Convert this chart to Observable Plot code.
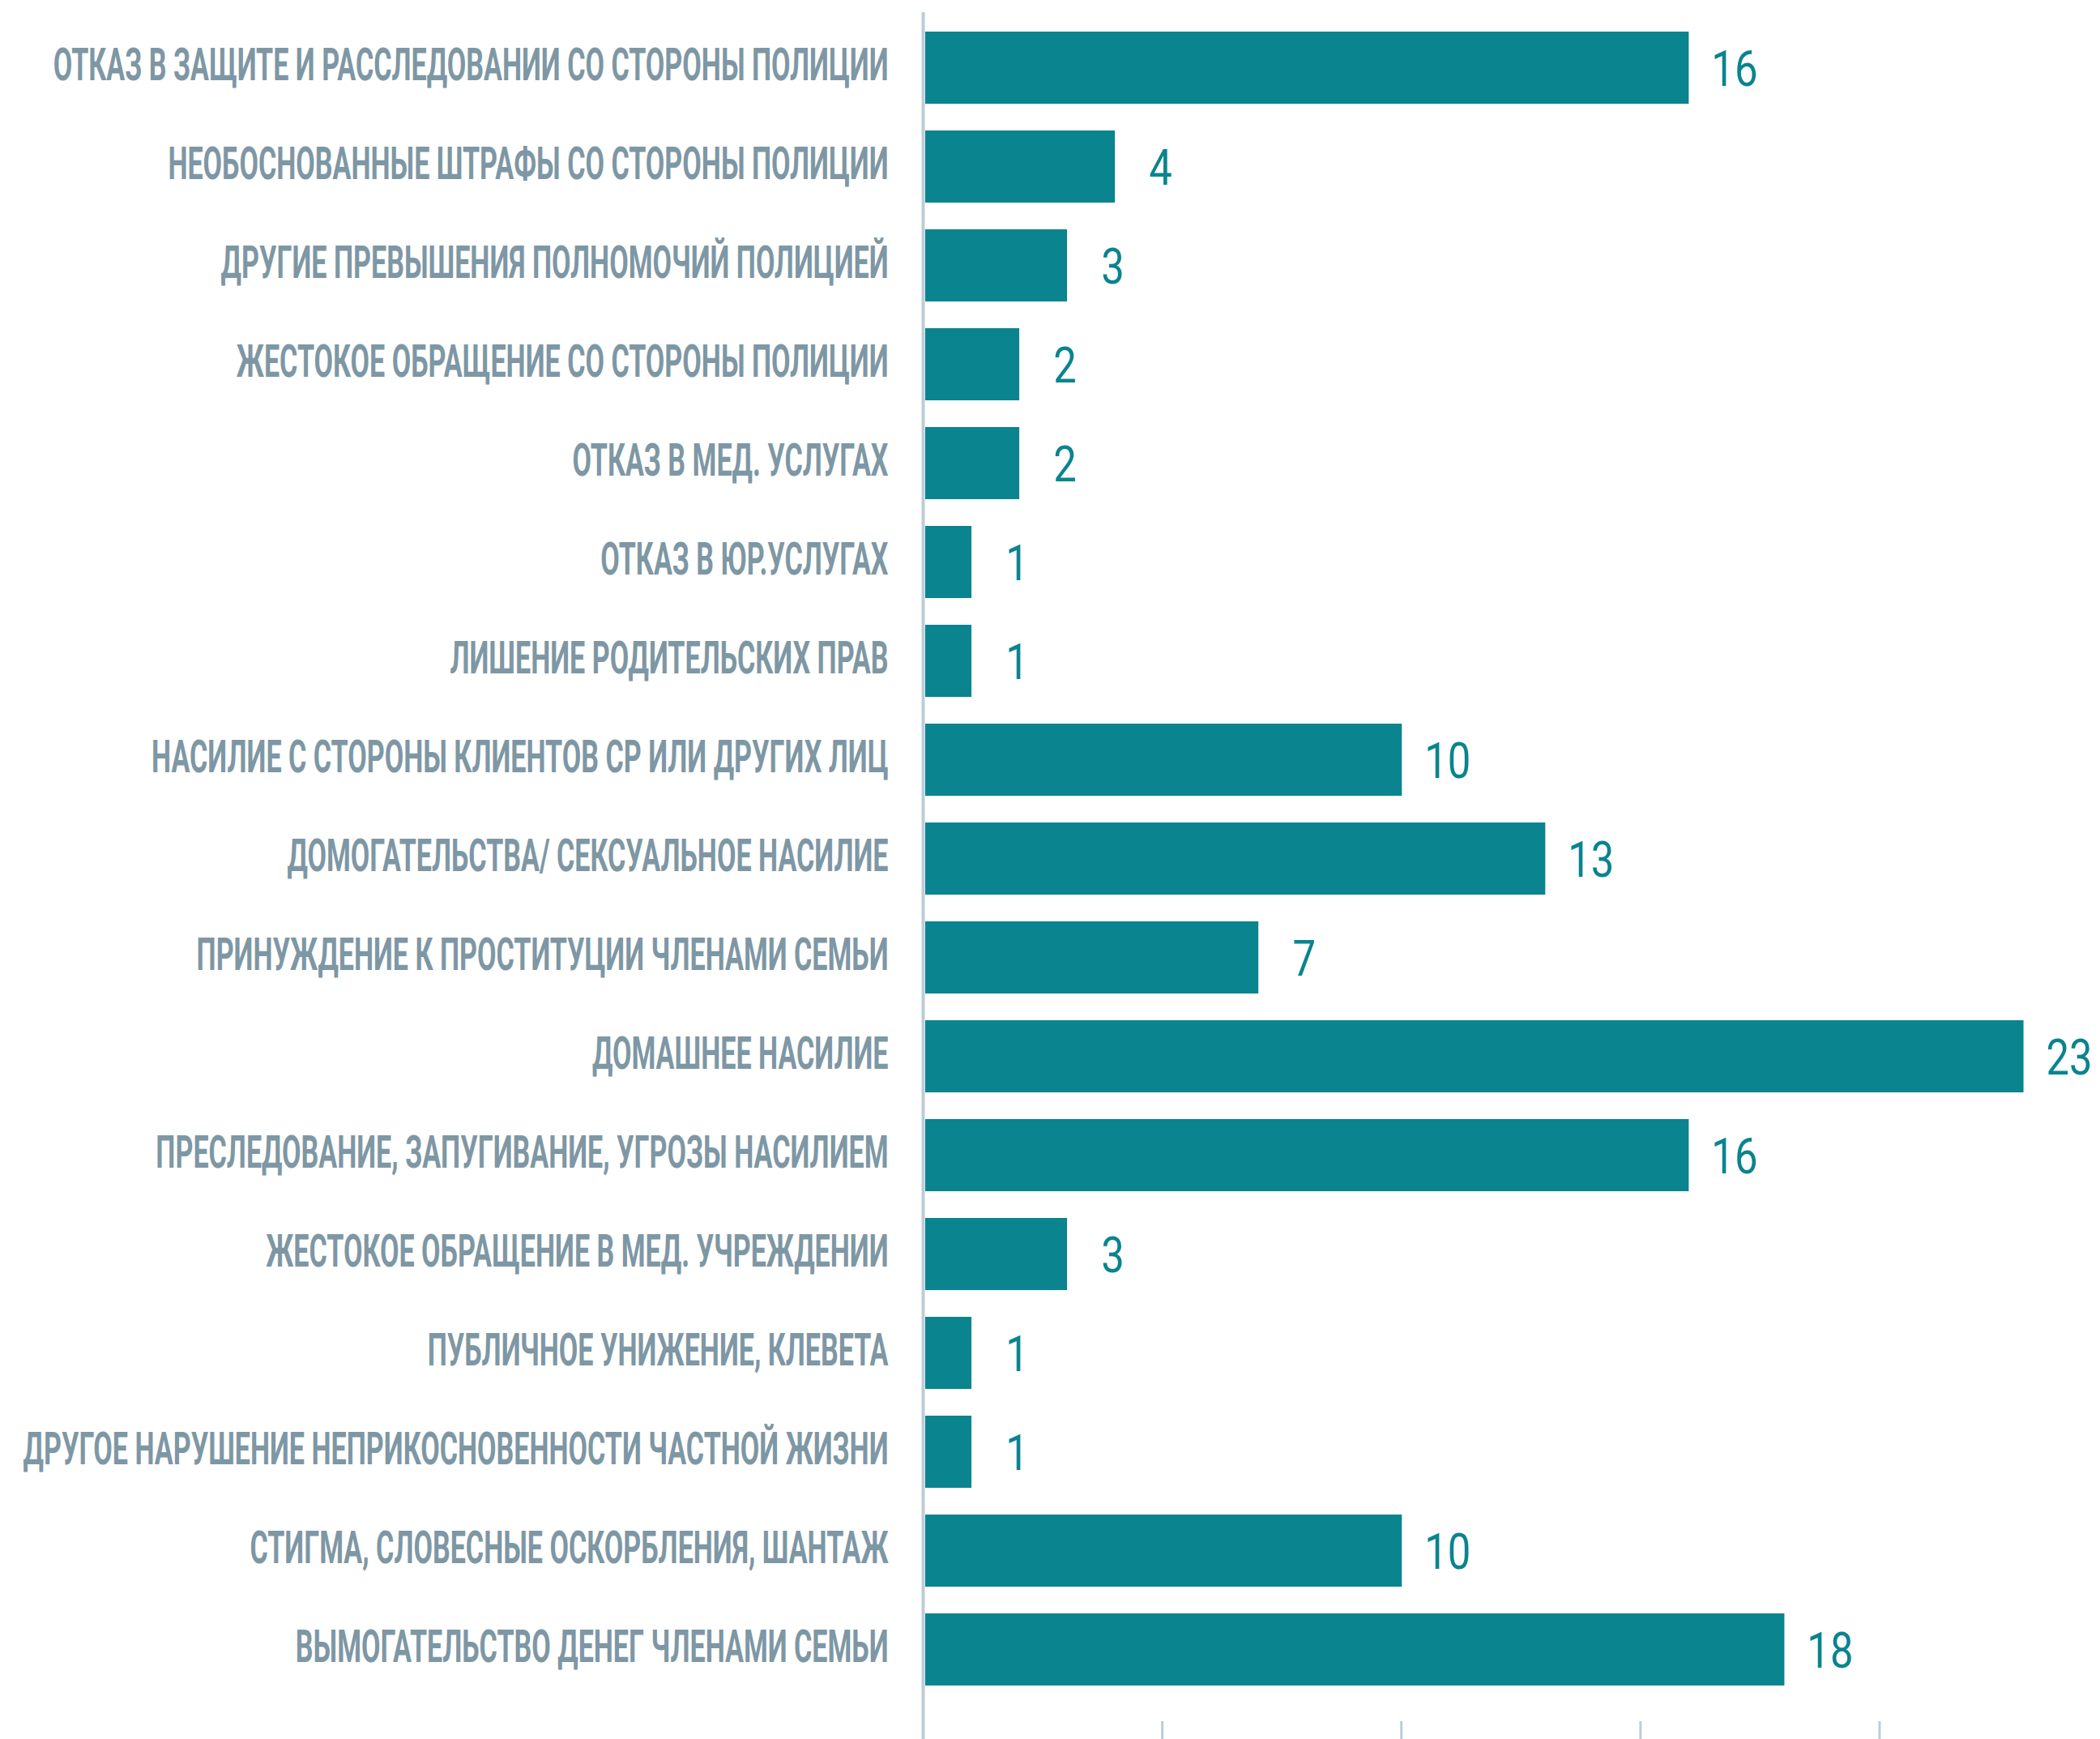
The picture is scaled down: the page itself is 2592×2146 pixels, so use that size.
<!DOCTYPE html>
<html>
<head>
<meta charset="utf-8">
<script src="https://cdn.jsdelivr.net/npm/d3@7"></script>
<script src="https://cdn.jsdelivr.net/npm/@observablehq/plot@0.6"></script>
<style>
  html, body { margin: 0; padding: 0; background: #ffffff; }
  #chart svg { display: block; }
</style>
</head>
<body>
<div id="chart"></div>
<script>
const categories = [
  "ОТКАЗ В ЗАЩИТЕ И РАССЛЕДОВАНИИ СО СТОРОНЫ ПОЛИЦИИ",
  "НЕОБОСНОВАННЫЕ ШТРАФЫ СО СТОРОНЫ ПОЛИЦИИ",
  "ДРУГИЕ ПРЕВЫШЕНИЯ ПОЛНОМОЧИЙ ПОЛИЦИЕЙ",
  "ЖЕСТОКОЕ ОБРАЩЕНИЕ СО СТОРОНЫ ПОЛИЦИИ",
  "ОТКАЗ В МЕД. УСЛУГАХ",
  "ОТКАЗ В ЮР.УСЛУГАХ",
  "ЛИШЕНИЕ РОДИТЕЛЬСКИХ ПРАВ",
  "НАСИЛИЕ С СТОРОНЫ КЛИЕНТОВ СР ИЛИ ДРУГИХ ЛИЦ",
  "ДОМОГАТЕЛЬСТВА/ СЕКСУАЛЬНОЕ НАСИЛИЕ",
  "ПРИНУЖДЕНИЕ К ПРОСТИТУЦИИ ЧЛЕНАМИ СЕМЬИ",
  "ДОМАШНЕЕ НАСИЛИЕ",
  "ПРЕСЛЕДОВАНИЕ, ЗАПУГИВАНИЕ, УГРОЗЫ НАСИЛИЕМ",
  "ЖЕСТОКОЕ ОБРАЩЕНИЕ В МЕД. УЧРЕЖДЕНИИ",
  "ПУБЛИЧНОЕ УНИЖЕНИЕ, КЛЕВЕТА",
  "ДРУГОЕ НАРУШЕНИЕ НЕПРИКОСНОВЕННОСТИ ЧАСТНОЙ ЖИЗНИ",
  "СТИГМА, СЛОВЕСНЫЕ ОСКОРБЛЕНИЯ, ШАНТАЖ",
  "ВЫМОГАТЕЛЬСТВО ДЕНЕГ ЧЛЕНАМИ СЕМЬИ"
];
const values = [16, 4, 3, 2, 2, 1, 1, 10, 13, 7, 23, 16, 3, 1, 1, 10, 18];
const xTicks = [0, 5, 10, 15, 20];

const data = categories.map((c, i) => ({category: c, value: values[i]}));

const teal = "#0a848f";
const labelGray = "#7e97a4";
const axisGray = "#bdccd6";

const W = 2592, H = 2146;
const marginTop = 36, marginBottom = 63, marginLeft = 1140, marginRight = 0;

const chart = Plot.plot({
  width: W,
  height: H,
  marginTop, marginBottom, marginLeft, marginRight,
  style: {background: "#ffffff", overflow: "visible"},
  x: {domain: [0, 24.6], axis: null},
  y: {domain: categories, axis: null, paddingInner: 0.273, paddingOuter: 0},
  marks: [
    // vertical axis line
    Plot.ruleX([0], {stroke: axisGray, strokeWidth: 4, dx: -1, insetTop: -21, insetBottom: -63}),
    // bottom tick marks
    Plot.ruleX(xTicks, {x: d => d, stroke: axisGray, strokeWidth: 3, dx: -1, insetTop: 2088, insetBottom: -63}),
    Plot.barX(data, {x: "value", y: "category", fill: teal, insetLeft: 2}),
    Plot.text(data, {
      x: 0, y: "category", text: "category", textAnchor: "end", dx: -44, dy: -3,
      fill: labelGray, fontSize: 55, fontWeight: 700, fontFamily: "Roboto",
      className: "ylab"
    }),
    Plot.text(data, {
      x: "value", y: "category", text: d => String(d.value), textAnchor: "middle", dx: 56, dy: 2,
      fill: teal, fontSize: 62, fontWeight: 400, fontFamily: "Roboto",
      className: "vlab"
    })
  ]
});

document.getElementById("chart").append(chart);

// condense label glyphs horizontally (the reference uses a condensed typeface)
const ylabs = chart.querySelectorAll("g.ylab text");
let maxLen = 0;
ylabs.forEach(t => { maxLen = Math.max(maxLen, t.getComputedTextLength()); });
const sx = maxLen > 0 ? 1068 / maxLen : 0.6;
ylabs.forEach(t => {
  const tr = t.getAttribute("transform") || "";
  t.setAttribute("transform", tr + ` scale(${sx},1)`);
});
chart.querySelectorAll("g.vlab text").forEach(t => {
  const tr = t.getAttribute("transform") || "";
  t.setAttribute("transform", tr + " scale(0.82,1)");
});
</script>
</body>
</html>
